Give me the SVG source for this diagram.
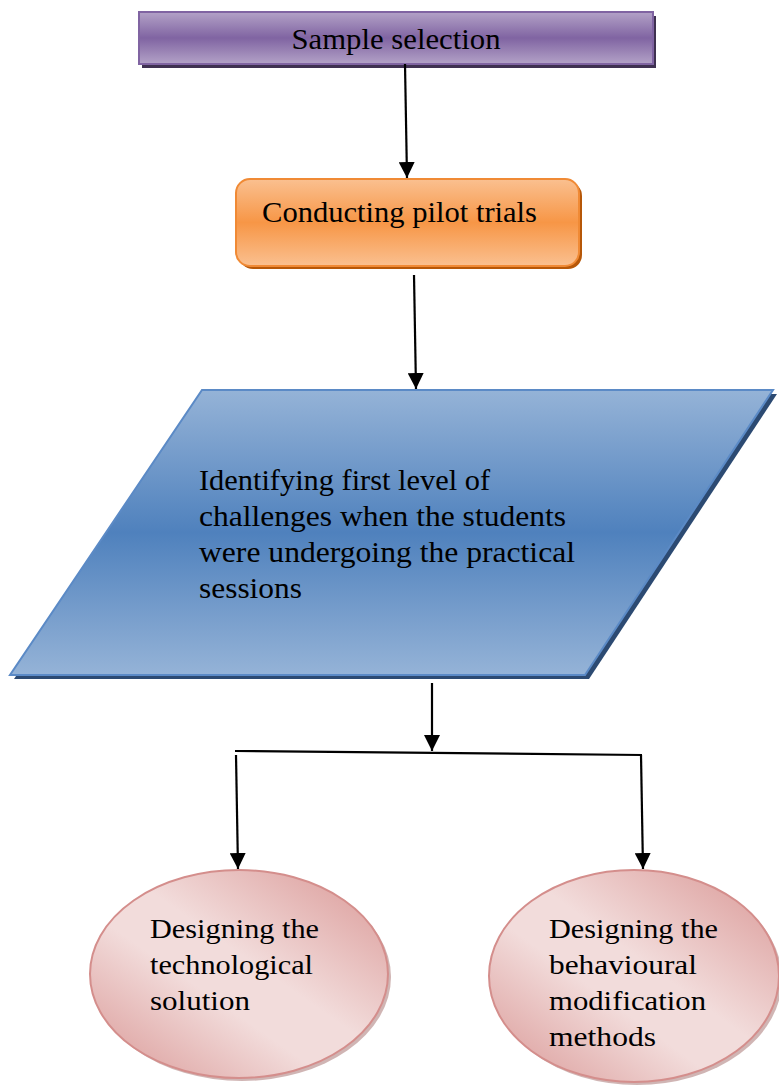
<svg xmlns="http://www.w3.org/2000/svg" width="779" height="1085" viewBox="0 0 779 1085">
<style>
  text { font-family: "Liberation Serif", "Times New Roman", serif; fill: #000; }
  .t28 { font-size: 30px; }
  .t26 { font-size: 28px; }
  .conn { stroke: #000; stroke-width: 2.2; fill: none; }
</style>
<defs>
  <linearGradient id="gPurple" x1="0" y1="0" x2="0" y2="1">
    <stop offset="0" stop-color="#b3a2c7"/>
    <stop offset="0.5" stop-color="#8064a2"/>
    <stop offset="1" stop-color="#b3a2c7"/>
  </linearGradient>
  <linearGradient id="gOrange" x1="0" y1="0" x2="0" y2="1">
    <stop offset="0" stop-color="#fac090"/>
    <stop offset="0.5" stop-color="#f79646"/>
    <stop offset="1" stop-color="#fac090"/>
  </linearGradient>
  <linearGradient id="gBlue" x1="0" y1="0" x2="0" y2="1">
    <stop offset="0" stop-color="#95b3d7"/>
    <stop offset="0.5" stop-color="#4f81bd"/>
    <stop offset="1" stop-color="#95b3d7"/>
  </linearGradient>
  <linearGradient id="gPink" x1="1" y1="0" x2="0" y2="1">
    <stop offset="0" stop-color="#d99694"/>
    <stop offset="0.45" stop-color="#f2dcdb"/>
    <stop offset="0.6" stop-color="#f2dcdb"/>
    <stop offset="1" stop-color="#d99694"/>
  </linearGradient>
  <marker id="arr" viewBox="0 0 10 10" refX="10" refY="5" markerWidth="16" markerHeight="16" markerUnits="userSpaceOnUse" orient="auto">
    <path d="M0,0 L10,5 L0,10 Z" fill="#000"/>
  </marker>
</defs>

<g id="node-sample">
  <rect x="142" y="16" width="514" height="52" fill="#3f3151"/>
  <rect x="139" y="12" width="514" height="52" fill="url(#gPurple)" stroke="#8064a2" stroke-width="2"/>
  <text class="t28" x="396" y="49" text-anchor="middle" textLength="209" lengthAdjust="spacingAndGlyphs">Sample selection</text>
</g>

<g id="node-pilot">
  <rect x="239" y="182" width="343" height="87" rx="14" fill="#b65708"/>
  <rect x="236" y="179" width="343" height="87" rx="14" fill="url(#gOrange)" stroke="#f08a35" stroke-width="2"/>
  <text class="t28" x="262" y="222" textLength="275" lengthAdjust="spacingAndGlyphs">Conducting pilot trials</text>
</g>

<g id="node-identify">
  <polygon points="206,394 777,394 589,679 14,679" fill="#2c4a72"/>
  <polygon points="202,390 773,390 585,675 10,675" fill="url(#gBlue)" stroke="#5b8ac6" stroke-width="2"/>
  <text class="t28" x="199" y="490" textLength="291" lengthAdjust="spacingAndGlyphs">Identifying first level of</text>
  <text class="t28" x="199" y="526" textLength="367" lengthAdjust="spacingAndGlyphs">challenges when the students</text>
  <text class="t28" x="199" y="562" textLength="376" lengthAdjust="spacingAndGlyphs">were undergoing the practical</text>
  <text class="t28" x="199" y="598" textLength="103" lengthAdjust="spacingAndGlyphs">sessions</text>
</g>

<g id="node-tech">
  <ellipse cx="242" cy="977" rx="149" ry="104" fill="#b08482" opacity="0.6"/>
  <ellipse cx="239" cy="974" rx="149" ry="104" fill="url(#gPink)" stroke="#d48e8c" stroke-width="2"/>
  <text class="t26" x="150" y="938" textLength="169" lengthAdjust="spacingAndGlyphs">Designing the</text>
  <text class="t26" x="150" y="974" textLength="163" lengthAdjust="spacingAndGlyphs">technological</text>
  <text class="t26" x="150" y="1010" textLength="100" lengthAdjust="spacingAndGlyphs">solution</text>
</g>

<g id="node-behav">
  <ellipse cx="637" cy="979" rx="145" ry="106" fill="#b08482" opacity="0.6"/>
  <ellipse cx="634" cy="976" rx="145" ry="106" fill="url(#gPink)" stroke="#d48e8c" stroke-width="2"/>
  <text class="t26" x="549" y="938" textLength="169" lengthAdjust="spacingAndGlyphs">Designing the</text>
  <text class="t26" x="549" y="974" textLength="148" lengthAdjust="spacingAndGlyphs">behavioural</text>
  <text class="t26" x="549" y="1010" textLength="157" lengthAdjust="spacingAndGlyphs">modification</text>
  <text class="t26" x="549" y="1046" textLength="107" lengthAdjust="spacingAndGlyphs">methods</text>
</g>

<g id="connectors">
  <line class="conn" x1="405" y1="64" x2="407" y2="178" marker-end="url(#arr)"/>
  <line class="conn" x1="414" y1="275" x2="416" y2="389" marker-end="url(#arr)"/>
  <line class="conn" x1="432" y1="683" x2="432" y2="751" marker-end="url(#arr)"/>
  <line class="conn" x1="235" y1="751" x2="642" y2="755"/>
  <line class="conn" x1="236" y1="755" x2="238" y2="869" marker-end="url(#arr)"/>
  <line class="conn" x1="641" y1="755" x2="643" y2="869" marker-end="url(#arr)"/>
</g>
</svg>
